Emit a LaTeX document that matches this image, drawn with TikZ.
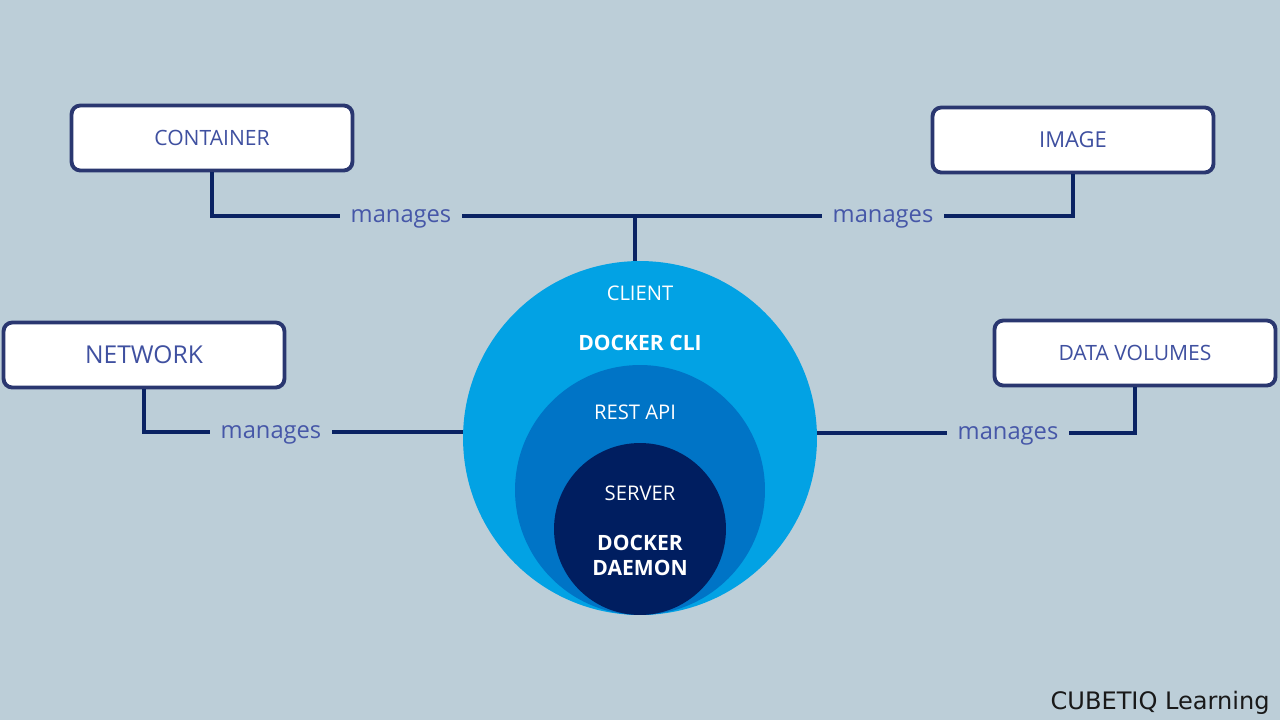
\documentclass[tikz,border=0pt]{standalone}
\usepackage{fontspec}
\setmainfont{Open Sans}
\newfontfamily\wmfont{DejaVu Sans}
\usetikzlibrary{calc,positioning}
\definecolor{bgcol}{HTML}{BCCED8}
\definecolor{boxline}{HTML}{2A3770}
\definecolor{boxtext}{HTML}{3F50A0}
\definecolor{mgtext}{HTML}{4657A8}
\definecolor{linkcol}{HTML}{0A2363}
\definecolor{clientcol}{HTML}{02A2E4}
\definecolor{apicol}{HTML}{0074C6}
\definecolor{servercol}{HTML}{001E60}
\begin{document}
\begin{tikzpicture} [x=0.02cm,y=-0.02cm,{box/.style={rectangle,rounded corners=5pt,draw=boxline,fill=white,line width=2.2pt,minimum width=5.62cm,minimum height=1.3cm,text=boxtext,font=\fontsize{12}{14}\selectfont}},{mg/.style={text=mgtext,inner sep=6pt,anchor=base,font=\fontsize{13.5}{16}\selectfont}},{link/.style={color=linkcol,line width=2.4pt}},{ring/.style={circle,inner sep=0pt}},{ctxt/.style={text=white,font=\fontsize{11.5}{14}\selectfont}}]
	%%background
	\fill [bgcol] (0,0) rectangle (1280,720);
	\useasboundingbox (0,0) rectangle (1280,720);
	%%circles
	\node [ring,fill=clientcol,minimum size=7.08cm] (outer) at (640,438) {};
	\node [ring,fill=apicol,minimum size=5cm] (mid) at (640,490) {};
	\node [ring,fill=servercol,minimum size=3.44cm] (inner) at (640,529) {};
	\node [ctxt] (client) at (640,293) {CLIENT};
	\node [ctxt,font=\fontsize{12}{14}\selectfont\bfseries] (cli) at (640,343) {DOCKER CLI};
	\node [ctxt] (rest) at (635,412) {REST API};
	\node [ctxt] (server) at (640,493) {SERVER};
	\node [ctxt,align=center,font=\fontsize{12}{14.2}\selectfont\bfseries] (daemon) at (640,555) {DOCKER\\DAEMON};
	%%boxes
	\node [box] (cont) at (212,138) {CONTAINER};
	\node [box,font=\fontsize{12.5}{15}\selectfont] (img) at (1073,140) {IMAGE};
	\node [box,font=\fontsize{14}{16}\selectfont] (net) at (144,355) {NETWORK};
	\node [box] (dvol) at (1135,353) {DATA VOLUMES};
	%%line heights
	\coordinate (hubT) at (635,216);
	\coordinate (hubL) at (0,432);
	\coordinate (hubR) at (1280,433);
	%%labels
	\node [mg] (mgC) at (401,222) {manages};
	\node [mg] (mgI) at (883,222) {manages};
	\node [mg] (mgN) at (271,438) {manages};
	\node [mg] (mgD) at (1008,439) {manages};
	%%links
	\draw [link] (cont.south) |- (mgC.west |- hubT);
	\draw [link] (mgC.east |- hubT) -- (mgI.west |- hubT);
	\draw [link] (mgI.east |- hubT) -| (img.south);
	\draw [link] (hubT) -- (hubT |- outer.north);
	\draw [link] (net.south) |- (mgN.west |- hubL);
	\draw [link] (mgN.east |- hubL) -- (outer.west |- hubL);
	\draw [link] (outer.east |- hubR) -- (mgD.west |- hubR);
	\draw [link] (mgD.east |- hubR) -| (dvol.south);
	%%watermark
	\node [anchor=base east,inner sep=0pt,text=black!90,font=\wmfont\fontsize{13.7}{16}\selectfont] (wm) at (1270,709) {CUBETIQ Learning};
\end{tikzpicture}
\end{document}
